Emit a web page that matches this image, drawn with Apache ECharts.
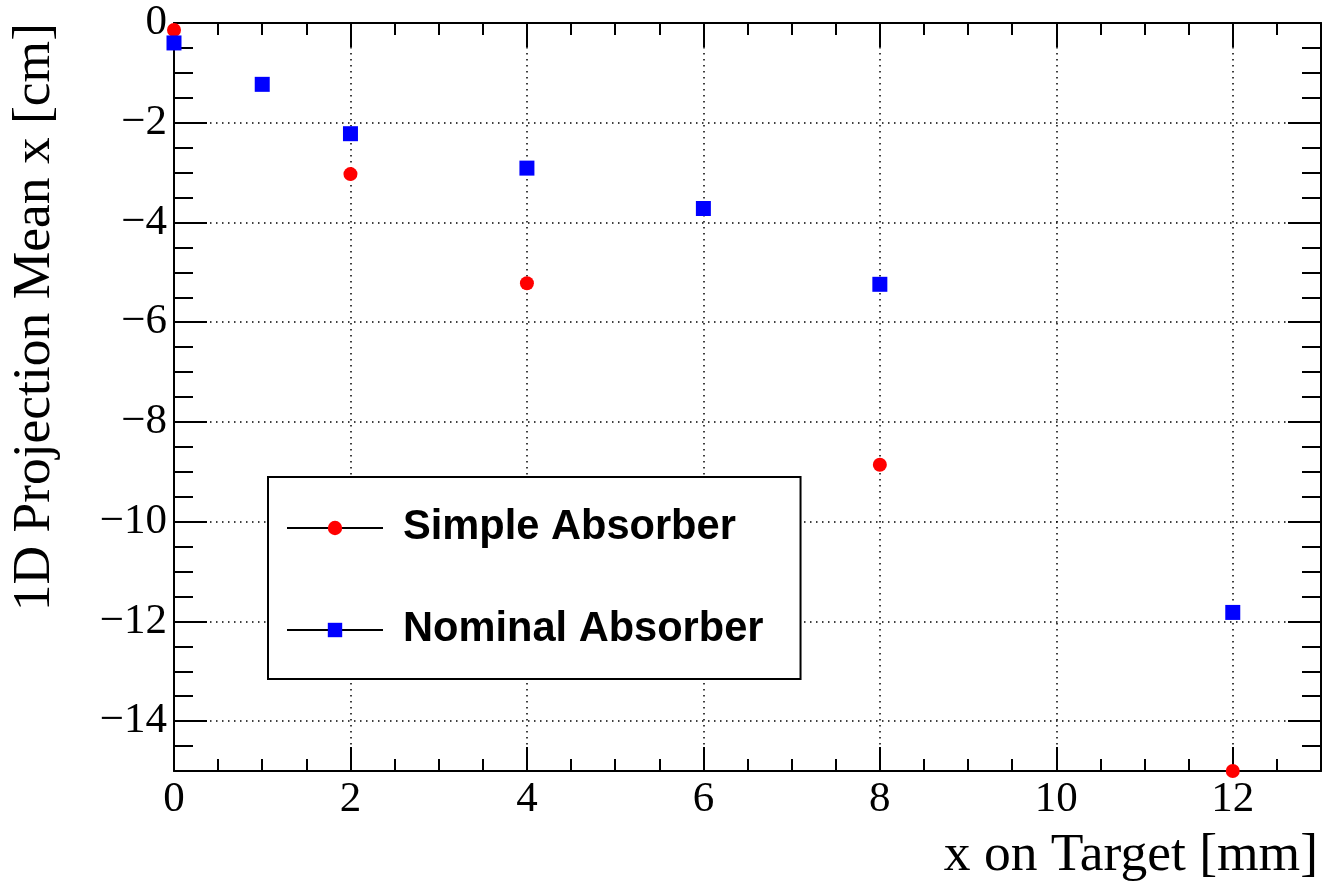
<!DOCTYPE html>
<html>
<head>
<meta charset="utf-8">
<script src="https://cdn.jsdelivr.net/npm/echarts@6/dist/echarts.min.js"></script>
<style>
html,body{margin:0;padding:0;background:#fff;}
#chart{width:1326px;height:885px;}
</style>
</head>
<body>
<div id="chart"></div>
<script>
// ---- data ----
const seriesNames = ['Simple Absorber', 'Nominal Absorber'];
const simpleX = [0, 2, 4, 8, 12];
const simpleY = [-0.14, -3.03, -5.22, -8.86, -15.0];
const nominalX = [0, 1, 2, 4, 6, 8, 12];
const nominalY = [-0.4, -1.23, -2.22, -2.91, -3.72, -5.24, -11.82];
const xRange = [0, 13];
const yRange = [-15, 0];
const yLabelRange = [-14, 0];
const majorStep = 2;
const minorStep = 0.5;
const xTitle = 'x on Target [mm]';
const yTitle = '1D Projection Mean x [cm]';

const serif = '"Liberation Serif", "DejaVu Serif", serif';
const sans = '"Liberation Sans", Arial, sans-serif';
const fmt = v => (v < 0 ? '\u2212' + Math.abs(v) : String(v));
const dotted = { color: '#000', width: 1.5, type: [1.5, 4.5] };

function axis(base, extra) {
  return Object.assign({
    type: 'value',
    axisLine: { show: false, lineStyle: { color: '#000', width: 2 } },
    axisTick: { show: true, inside: true, length: 12, lineStyle: { color: '#000', width: 2 } },
    axisLabel: { show: false },
    splitLine: { show: false },
    minorTick: { show: false },
    axisPointer: { show: false },
    z: 1
  }, base, extra);
}

const xMinor = { min: xRange[0], max: xRange[1], interval: minorStep };
const xMajor = { min: xRange[0], max: xRange[1], interval: majorStep };
const yMinor = { min: yRange[0], max: yRange[1], interval: minorStep };
const yMajor = { min: yLabelRange[0], max: yLabelRange[1], interval: majorStep };

const option = {
  animation: false,
  backgroundColor: '#fff',
  grid: [
    { left: 174, right: 5, top: 23, bottom: 114, containLabel: false },
    { left: 174, right: 5, top: 23, height: 748 * (yLabelRange[1] - yLabelRange[0]) / (yRange[1] - yRange[0]), containLabel: false }
  ],
  xAxis: [
    axis(xMinor, { gridIndex: 0, position: 'bottom', axisLine: { show: true, onZero: false, lineStyle: { color: '#000', width: 2 } } }),
    axis(xMajor, {
      gridIndex: 0, position: 'bottom',
      axisLine: { show: false, onZero: false },
      axisTick: { show: true, inside: true, length: 24, lineStyle: { color: '#000', width: 2 } },
      axisLabel: { show: true, margin: 7, formatter: fmt, showMaxLabel: false, color: '#000', fontFamily: serif, fontSize: 43 },
      splitLine: { show: true, lineStyle: dotted },
      name: xTitle, nameLocation: 'end', nameGap: -3,
      nameTextStyle: { align: 'right', verticalAlign: 'top', padding: [58, 0, 0, 0], color: '#000', fontFamily: serif, fontSize: 53.5 }
    }),
    axis(xMinor, { gridIndex: 0, position: 'top', axisLine: { show: true, onZero: false, lineStyle: { color: '#000', width: 2 } } }),
    axis(xMajor, { gridIndex: 0, position: 'top', axisLine: { show: false, onZero: false },
      axisTick: { show: true, inside: true, length: 24, lineStyle: { color: '#000', width: 2 } } }),
    axis(xMajor, { gridIndex: 1, show: false })
  ],
  yAxis: [
    axis(yMinor, { gridIndex: 0, position: 'left', axisLine: { show: true, onZero: false, lineStyle: { color: '#000', width: 2 } },
      axisTick: { show: true, inside: true, length: 19, lineStyle: { color: '#000', width: 2 } },
      name: yTitle, nameLocation: 'end', nameGap: 0, nameRotate: 90,
      nameTextStyle: { align: 'right', verticalAlign: 'bottom', padding: [0, 0, 112, 0], color: '#000', fontFamily: serif, fontSize: 53.5 }
    }),
    axis(yMinor, { gridIndex: 0, position: 'right', axisLine: { show: true, onZero: false, lineStyle: { color: '#000', width: 2 } },
      axisTick: { show: true, inside: true, length: 19, lineStyle: { color: '#000', width: 2 } } }),
    axis(yMajor, { gridIndex: 1, position: 'left',
      axisTick: { show: true, inside: true, length: 33, lineStyle: { color: '#000', width: 2 } },
      axisLabel: { show: true, margin: 7, formatter: fmt, color: '#000', fontFamily: serif, fontSize: 43 },
      splitLine: { show: true, lineStyle: dotted } }),
    axis(yMajor, { gridIndex: 1, position: 'right',
      axisTick: { show: true, inside: true, length: 33, lineStyle: { color: '#000', width: 2 } } })
  ],
  legend: {
    data: seriesNames,
    orient: 'vertical',
    left: 268, top: 477,
    padding: [30, 37, 28, 18],
    itemWidth: 96, itemHeight: 18, itemGap: 60,
    borderColor: '#000', borderWidth: 2, borderRadius: 0,
    backgroundColor: '#fff',
    selectedMode: false,
    textStyle: { color: '#000', fontFamily: sans, fontWeight: 'bold', fontSize: 41.6, lineHeight: 41, padding: [0, 0, 0, 15] },
    lineStyle: { color: '#000', width: 2, opacity: 1, type: 'solid' },
    z: 5
  },
  series: [
    {
      name: seriesNames[0], type: 'line', xAxisIndex: 0, yAxisIndex: 0,
      data: simpleX.map((x, i) => [x, simpleY[i]]),
      symbol: 'circle', symbolSize: 14, showSymbol: true, clip: false,
      itemStyle: { color: '#ff0000', borderWidth: 0 },
      lineStyle: { opacity: 0, width: 0 },
      emphasis: { disabled: true }, z: 3
    },
    {
      name: seriesNames[1], type: 'line', xAxisIndex: 0, yAxisIndex: 0,
      data: nominalX.map((x, i) => [x, nominalY[i]]),
      symbol: 'rect', symbolSize: 15, showSymbol: true, clip: false,
      itemStyle: { color: '#0000ff', borderWidth: 0 },
      lineStyle: { opacity: 0, width: 0 },
      emphasis: { disabled: true }, z: 4
    }
  ]
};

const chart = echarts.init(document.getElementById('chart'), null, { renderer: 'canvas' });
chart.setOption(option);
</script>
</body>
</html>
